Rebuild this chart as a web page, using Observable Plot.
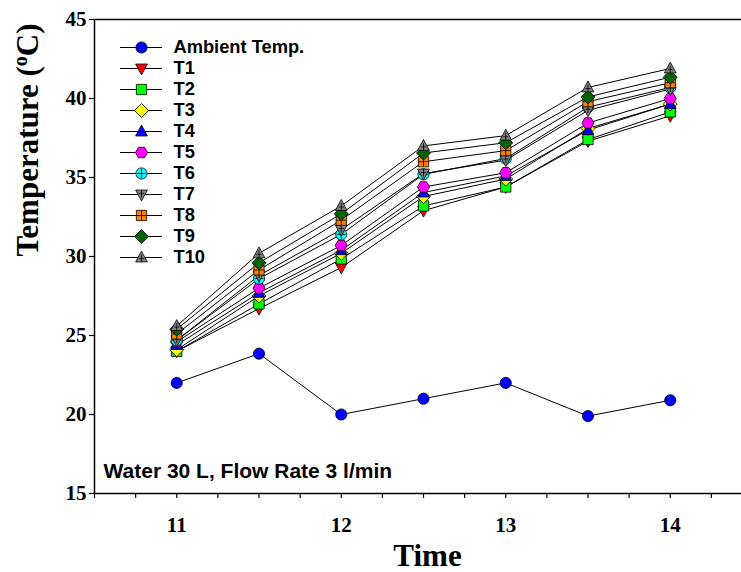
<!DOCTYPE html>
<html><head><meta charset="utf-8">
<script src="https://cdn.jsdelivr.net/npm/d3@7"></script>
<script src="https://cdn.jsdelivr.net/npm/@observablehq/plot@0.6"></script>
<style>
html,body{margin:0;padding:0;background:#fff;}
#wrap{position:relative;width:741px;height:572px;overflow:hidden;background:#fff;}
#wrap svg{position:absolute;left:0;top:0;max-width:none !important;}
</style></head><body><div id="wrap"></div>
<script>
// ---- data ----
const times = [11, 11.5, 12, 12.5, 13, 13.5, 14];
const ambient = [22.0, 23.85, 20.0, 21.0, 22.0, 19.9, 20.9];
const t1  = [24.0, 26.7, 29.3, 32.9, 34.4, 37.3, 38.9];
const t2  = [24.0, 27.0, 29.85, 33.2, 34.4, 37.4, 39.15];
const t3  = [24.1, 27.5, 30.2, 33.8, 34.9, 38.1, 39.65];
const t4  = [24.4, 27.7, 30.4, 34.05, 35.1, 38.0, 39.65];
const t5  = [24.6, 28.0, 30.7, 34.4, 35.3, 38.45, 40.0];
const t6  = [24.7, 28.6, 31.4, 35.2, 36.2, 39.45, 40.7];
const t7  = [24.7, 28.8, 31.7, 35.25, 36.1, 39.25, 40.6];
const t8  = [25.1, 29.15, 32.3, 36.0, 36.7, 39.8, 41.0];
const t9  = [25.4, 29.6, 32.7, 36.55, 37.2, 40.1, 41.35];
const t10 = [25.6, 30.2, 33.2, 37.0, 37.65, 40.7, 41.9];

const seriesNames = ["Ambient Temp.", "T1", "T2", "T3", "T4", "T5", "T6", "T7", "T8", "T9", "T10"];
const seriesValues = [ambient, t1, t2, t3, t4, t5, t6, t7, t8, t9, t10];
const seriesFills = ["#0000ff", "#ff0000", "#00ff00", "#ffff00", "#0000ff", "#ff00ff", "#00ffff", "#808080", "#ff8000", "#006400", "#808080"];
const seriesShapes = ["circle", "triangleDown", "square", "diamond", "triangleUp", "hexagon", "circleCross", "triangleDownCross", "squareCross", "diamond", "triangleUpCross"];

const xMajorTicks = [11, 12, 13, 14];
const xMinorTicks = [10.5, 10.75, 11.25, 11.5, 11.75, 12.25, 12.5, 12.75, 13.25, 13.5, 13.75, 14.25];
const yTicks = [15, 20, 25, 30, 35, 40, 45];
const xDomain = [10.5, 14.5];
const yDomain = [15, 45];
const xTitle = "Time";
const yTitle = "Temperature (oC)";
const note = "Water 30 L, Flow Rate 3 l/min";

// ---- symbols ----
function makeSymbol(kind) {
  return {
    draw(ctx, size) {
      const r = Math.sqrt(size / Math.PI);
      const cross = kind.endsWith("Cross");
      const base = cross ? kind.slice(0, -5) : kind;
      let cy = 0, hx = r * 0.8, hyTop = r * 0.8, hyBot = r * 0.8;
      if (base === "circle") {
        ctx.moveTo(r, 0); ctx.arc(0, 0, r, 0, 2 * Math.PI); ctx.closePath();
      } else if (base === "square") {
        const s = r * 0.92;
        ctx.moveTo(-s, -s); ctx.lineTo(s, -s); ctx.lineTo(s, s); ctx.lineTo(-s, s); ctx.closePath();
        hx = hyTop = hyBot = s;
      } else if (base === "diamond") {
        const s = r * 1.25;
        ctx.moveTo(0, -s); ctx.lineTo(s, 0); ctx.lineTo(0, s); ctx.lineTo(-s, 0); ctx.closePath();
      } else if (base === "triangleUp") {
        const w = r * 1.05, top = -r * 1.15, bot = r * 0.8;
        ctx.moveTo(0, top); ctx.lineTo(w, bot); ctx.lineTo(-w, bot); ctx.closePath();
        cy = r * 0.2; hx = r * 0.45; hyTop = r * 0.7; hyBot = r * 0.6;
      } else if (base === "triangleDown") {
        const w = r * 1.05, top = -r * 0.8, bot = r * 1.15;
        ctx.moveTo(-w, top); ctx.lineTo(w, top); ctx.lineTo(0, bot); ctx.closePath();
        cy = -r * 0.2; hx = r * 0.45; hyTop = r * 0.6; hyBot = r * 0.7;
      } else if (base === "hexagon") {
        const s = r * 1.08;
        for (let k = 0; k < 6; k++) {
          const a = k * Math.PI / 3;
          const px = s * Math.cos(a), py = s * Math.sin(a);
          if (k === 0) ctx.moveTo(px, py); else ctx.lineTo(px, py);
        }
        ctx.closePath();
      }
      if (cross) {
        ctx.moveTo(-hx, cy); ctx.lineTo(hx, cy);
        ctx.moveTo(0, cy - hyTop); ctx.lineTo(0, cy + hyBot);
      }
    }
  };
}

// ---- table ----
const rows = [];
seriesNames.forEach((name, i) => times.forEach((t, j) => rows.push({series: name, time: t, value: seriesValues[i][j]})));

const serif = "'Liberation Serif', 'Times New Roman', serif";
const sans = "'Liberation Sans', Arial, sans-serif";
const R = 5.6;

const chart = Plot.plot({
  width: 752, height: 572,
  marginLeft: 94, marginRight: 0, marginTop: 19, marginBottom: 79,
  x: {domain: xDomain, label: null},
  y: {domain: yDomain, label: null},
  style: {background: "white", color: "black", overflow: "visible", maxWidth: "none"},
  marks: [
    Plot.axisX(xMinorTicks, {tickSize: 5, tickFormat: () => "", strokeWidth: 1.2, label: null}),
    Plot.axisX(xMajorTicks, {tickSize: 5, tickPadding: 19, strokeWidth: 1.2, label: null,
      tickFormat: d => String(d), fontSize: 21, fontWeight: "bold", fontFamily: serif}),
    Plot.axisY(yTicks, {tickSize: 5, tickPadding: 3, strokeWidth: 1.2, label: null,
      tickFormat: d => String(d), fontSize: 21, fontWeight: "bold", fontFamily: serif}),
    Plot.frame({stroke: "black", strokeWidth: 1.5}),
    Plot.line(rows, {x: "time", y: "value", z: "series", stroke: "black", strokeWidth: 1}),
    ...seriesNames.map((name, i) => Plot.dot(rows.filter(d => d.series === name), {
      x: "time", y: "value", r: R, symbol: makeSymbol(seriesShapes[i]),
      fill: seriesFills[i], stroke: "black", strokeWidth: 0.8
    })),
    Plot.text([note], {frameAnchor: "bottom-left", textAnchor: "start", lineAnchor: "bottom",
      dx: 9, dy: -16, fontSize: 21, fontWeight: "bold", fontFamily: sans, fill: "black"}),
    Plot.text([xTitle], {frameAnchor: "bottom", lineAnchor: "bottom", dx: 4, dy: 72,
      fontSize: 31, fontWeight: "bold", fontFamily: serif, fill: "black"}),
    Plot.text([yTitle], {frameAnchor: "left", rotate: -90, dx: -66, lineAnchor: "middle",
      fontSize: 31, fontWeight: "bold", fontFamily: serif, fill: "black"})
  ]
});

// superscript "o" in the y title
d3.select(chart).selectAll("text").filter(function() { return this.textContent === yTitle; })
  .each(function() {
    const t = d3.select(this);
    t.selectAll("*").remove();
    t.text(null);
    t.append("tspan").text("Temperature (");
    t.append("tspan").text("o").attr("font-size", 20).attr("dy", -11);
    t.append("tspan").text("C)").attr("dy", 11);
  });

const legend = Plot.plot({
  width: 741, height: 572, margin: 0,
  axis: null,
  x: {domain: [0, 1], range: [120, 162]},
  y: {type: "point", domain: seriesNames, range: [32.3, 271.7]},
  style: {background: "transparent", color: "black"},
  marks: [
    Plot.ruleY(seriesNames, {y: d => d, x1: 0, x2: 1, stroke: "black", strokeWidth: 1}),
    ...seriesNames.map((name, i) => Plot.dot([name], {
      x: 0.5, y: d => d, r: R, symbol: makeSymbol(seriesShapes[i]),
      fill: seriesFills[i], stroke: "black", strokeWidth: 0.8
    })),
    Plot.text(seriesNames, {x: 1, y: d => d, dx: 11, textAnchor: "start",
      fontSize: 18.3, fontWeight: "bold", fontFamily: sans, fill: "black"})
  ]
});

const wrap = document.getElementById("wrap");
wrap.appendChild(chart);
wrap.appendChild(legend);
</script>
</body></html>
